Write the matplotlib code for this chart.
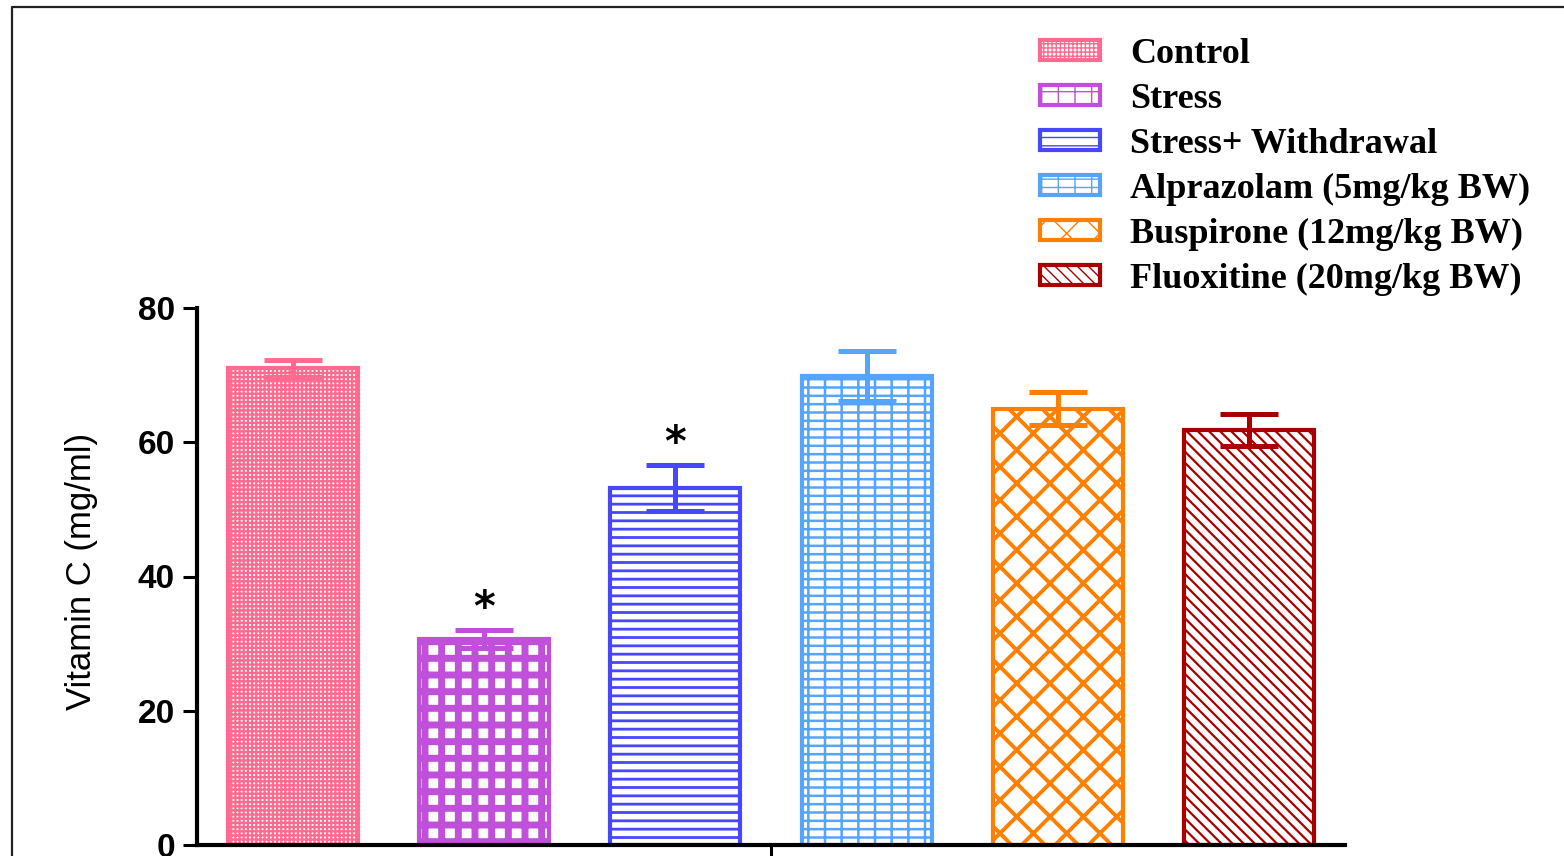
import matplotlib
matplotlib.use("Agg")
import matplotlib.pyplot as plt
from matplotlib.lines import Line2D

groups = ["Control", "Stress", "Stress+ Withdrawal", "Alprazolam (5mg/kg BW)",
          "Buspirone (12mg/kg BW)", "Fluoxitine (20mg/kg BW)"]
vitamin_c = [71.0, 30.7, 53.2, 69.9, 65.0, 61.8]
sem = [1.3, 1.3, 3.4, 3.7, 2.5, 2.4]
signif = ["", "*", "*", "", "", ""]
y_ticks = [0, 20, 40, 60, 80]

colors = ["#ff6a8e", "#c04fd9", "#4747ff", "#55a5ff", "#ff8000", "#a80000"]
hatches = ["++++", "+", "--", "--|", "x", "\\\\\\"]
hatch_lw = [1.6, 5.0, 2.0, 1.8, 2.8, 1.6]

fig = plt.figure(figsize=(15.64, 8.56), dpi=100)
ax = fig.add_axes([197 / 1564, 1 - 845 / 856, 1148 / 1564, 537 / 856])

x = list(range(len(groups)))
for i in x:
    with plt.rc_context({"hatch.linewidth": hatch_lw[i]}):
        b = ax.bar(i, vitamin_c[i], width=0.68, color="white", edgecolor=colors[i],
                   hatch=hatches[i], linewidth=3, label=groups[i], zorder=2)
        for p in b:
            if hasattr(p, "set_hatch_linewidth"):
                p.set_hatch_linewidth(hatch_lw[i])
    ax.errorbar(i, vitamin_c[i], yerr=sem[i], fmt="none", ecolor=colors[i],
                elinewidth=3.6, capsize=21, capthick=3.6, zorder=3)
    if signif[i]:
        ax.annotate(signif[i], (i, vitamin_c[i] + sem[i]), xytext=(0, 0),
                    textcoords="offset points", ha="center", va="bottom",
                    fontsize=30, fontweight="bold")

ax.set_xlim(-0.5, 5.5)
ax.set_ylim(0, 80)
ax.set_yticks(y_ticks)
ax.set_yticklabels([str(v) for v in y_ticks], fontsize=24, fontweight="bold",
                   family="Liberation Sans")
ax.set_xticks([2.5])
ax.set_xticklabels([""])
ax.tick_params(axis="y", direction="out", length=10, width=2.2, pad=6)
ax.tick_params(axis="x", direction="out", length=10, width=2.2)
for s in ["top", "right"]:
    ax.spines[s].set_visible(False)
for s in ["left", "bottom"]:
    ax.spines[s].set_linewidth(3)

fig.text(81 / 1564, 1 - 571 / 856, "Vitamin C (mg/ml)", rotation=90, ha="center",
         va="center", fontsize=25, family="Liberation Sans")

leg = fig.legend(loc="upper left", bbox_to_anchor=(1040 / 1564, 1 - 38 / 856),
                 frameon=False,
                 prop={"family": "Liberation Serif", "size": 26, "weight": "bold"},
                 handlelength=1.67, handleheight=0.5, handletextpad=0.83,
                 labelspacing=0.33, borderpad=0, borderaxespad=0)

# outer frame (top and left edges only visible in the picture)
fig.add_artist(Line2D([12 / 1564, 12 / 1564, 1.0], [0.0, 1 - 7 / 856, 1 - 7 / 856],
                      transform=fig.transFigure, color="#222222", linewidth=1.6))

fig.savefig("out.png", dpi=100)
